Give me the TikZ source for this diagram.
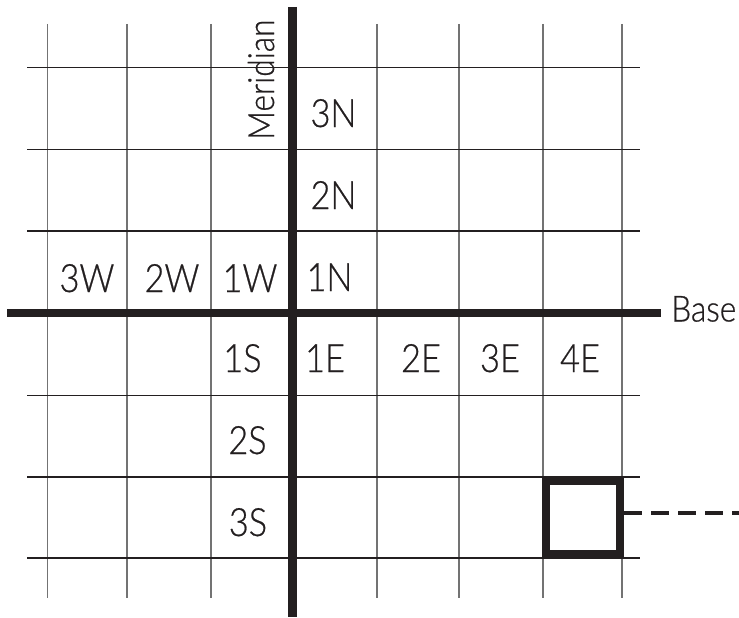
\documentclass[tikz,border=0pt]{standalone}
\usepackage{fontspec}
\setmainfont{Lato Light}[FakeStretch=0.88,FakeBold=0.6]
\definecolor{ink}{HTML}{231F20}
\begin{document}
\begin{tikzpicture}[x=1pt,y=-1pt,
  thinv/.style={draw=black!55,line width=1.2pt},
  thinh/.style={draw=ink,line width=1.4pt},
  axis/.style={draw=ink,line width=8.5pt},
  lbl/.style={anchor=base,inner sep=0pt,text=ink,font=\fontsize{39}{39}\selectfont},
  axlbl/.style={inner sep=0pt,text=ink,font=\fontsize{36}{36}\selectfont},
  dashline/.style={draw=ink,line width=4pt,dash pattern=on 18pt off 9pt}]
\useasboundingbox (0,0) rectangle (739,618);
% thin vertical grid lines
\foreach \x in {47.7,127,211,377,459,543,622}
  \draw[thinv] (\x,24) -- (\x,598);
% thin horizontal grid lines
\foreach \y in {67.7,149.7,231,395.5,477,558}
  \draw[thinh] (27,\y) -- (640,\y);
% axes
\coordinate (mtop) at (292.7,7);
\coordinate (mbot) at (292.7,617);
\coordinate (bl) at (7,313);
\coordinate (br) at (661,313);
\draw[axis] (mtop) -- (mbot);
\draw[axis] (bl) -- (br);
% labels
\node[lbl] (n3) at (333.5,127) {3N};
\node[lbl] (n2) at (333.5,209) {2N};
\node[lbl] (n1) at (329.5,291) {1N};
\node[lbl] (w3) at (87,292) {3W};
\node[lbl] (w2) at (172,292) {2W};
\node[lbl] (w1) at (250,292) {1W};
\node[lbl] (s1) at (242.5,372) {1S};
\node[lbl] (s2) at (247.5,454) {2S};
\node[lbl] (s3) at (248,536) {3S};
\node[lbl] (e1) at (325,372) {1E};
\node[lbl] (e2) at (421,372) {2E};
\node[lbl] (e3) at (500,372) {3E};
\node[lbl] (e4) at (580,372) {4E};
\node[axlbl,anchor=base west,rotate=90] (mer) at (274,140) {Meridian};
\node[axlbl,anchor=base west] (base) at (671,321.5) {Base};
% highlighted square and dashed lead
\node[draw=ink,line width=8pt,minimum width=74pt,minimum height=73pt,inner sep=0pt] (sq) at (583,517.5) {};
\coordinate (da) at (624,512.7);
\coordinate (db) at (739,512.7);
\draw[dashline] (da) -- (db);
\end{tikzpicture}
\end{document}
